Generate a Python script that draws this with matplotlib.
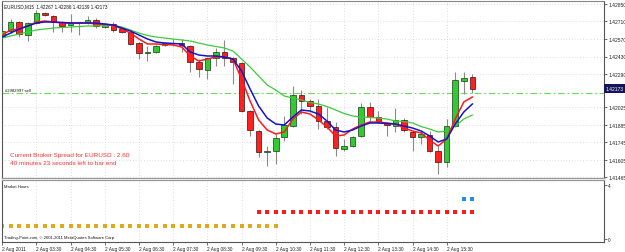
import matplotlib
matplotlib.use("Agg")
import matplotlib.pyplot as plt
import numpy as np

# EURUSD M15 bars, 2 Aug 2011 02:30 .. 16:15
opens = [1.42586, 1.42634, 1.42706, 1.42602, 1.42698, 1.42778, 1.42754, 1.42706,
         1.42682, 1.42698, 1.42706, 1.42722, 1.42666, 1.42690, 1.42650, 1.42626,
         1.42538, 1.42458, 1.42466, 1.42522, 1.42538, 1.42538, 1.42514, 1.42386,
         1.42322, 1.42418, 1.42466, 1.42418, 1.42378, 1.41994, 1.41834, 1.41666,
         1.41674, 1.41786, 1.41874, 1.42122, 1.42074, 1.42034, 1.41914, 1.41866,
         1.41690, 1.41714, 1.41794, 1.42026, 1.41946, 1.41898, 1.41874, 1.41922,
         1.41826, 1.41786, 1.41802, 1.41674, 1.41586, 1.41874, 1.42234, 1.42267]
highs = [1.42650, 1.42730, 1.42714, 1.42706, 1.42802, 1.42786, 1.42762, 1.42714,
         1.42770, 1.42706, 1.42754, 1.42738, 1.42698, 1.42706, 1.42658, 1.42634,
         1.42546, 1.42514, 1.42522, 1.42546, 1.42570, 1.42570, 1.42522, 1.42410,
         1.42426, 1.42498, 1.42562, 1.42426, 1.42386, 1.42002, 1.41842, 1.41714,
         1.41810, 1.41954, 1.42194, 1.42162, 1.42090, 1.42090, 1.42026, 1.41906,
         1.41770, 1.41794, 1.42058, 1.42066, 1.41994, 1.41906, 1.42018, 1.41938,
         1.41834, 1.41842, 1.41834, 1.41714, 1.41930, 1.42306, 1.42306, 1.42286]
lows = [1.42570, 1.42618, 1.42586, 1.42554, 1.42690, 1.42754, 1.42626, 1.42626,
        1.42626, 1.42602, 1.42690, 1.42658, 1.42658, 1.42626, 1.42618, 1.42522,
        1.42410, 1.42394, 1.42458, 1.42514, 1.42514, 1.42466, 1.42306, 1.42266,
        1.42250, 1.42354, 1.42354, 1.42210, 1.41986, 1.41794, 1.41626, 1.41554,
        1.41570, 1.41754, 1.41866, 1.41970, 1.41986, 1.41850, 1.41850, 1.41634,
        1.41674, 1.41706, 1.41786, 1.41906, 1.41898, 1.41794, 1.41826, 1.41826,
        1.41674, 1.41730, 1.41666, 1.41490, 1.41546, 1.41866, 1.42130, 1.42139]
closes = [1.42634, 1.42706, 1.42610, 1.42698, 1.42778, 1.42762, 1.42706, 1.42674,
          1.42698, 1.42694, 1.42722, 1.42674, 1.42690, 1.42642, 1.42626, 1.42530,
          1.42458, 1.42466, 1.42514, 1.42538, 1.42534, 1.42522, 1.42386, 1.42330,
          1.42418, 1.42466, 1.42418, 1.42386, 1.41994, 1.41842, 1.41666, 1.41674,
          1.41778, 1.41882, 1.42122, 1.42074, 1.42034, 1.41914, 1.41866, 1.41698,
          1.41714, 1.41786, 1.42026, 1.41946, 1.41906, 1.41882, 1.41922, 1.41842,
          1.41786, 1.41810, 1.41674, 1.41586, 1.41874, 1.42242, 1.42258, 1.42173]

# moving averages
ma_red = [1.42602, 1.42642, 1.42650, 1.42674, 1.42706, 1.42714, 1.42706, 1.42698,
          1.42698, 1.42698, 1.42698, 1.42690, 1.42686, 1.42682, 1.42650, 1.42618,
          1.42570, 1.42530, 1.42530, 1.42526, 1.42522, 1.42506, 1.42434, 1.42394,
          1.42410, 1.42426, 1.42426, 1.42410, 1.42250, 1.42074, 1.41922, 1.41842,
          1.41810, 1.41826, 1.41930, 1.41986, 1.41970, 1.41922, 1.41866, 1.41794,
          1.41802, 1.41850, 1.41882, 1.41906, 1.41906, 1.41898, 1.41890, 1.41858,
          1.41834, 1.41818, 1.41762, 1.41714, 1.41770, 1.41930, 1.42066, 1.42106]
ma_blue = [1.42586, 1.42618, 1.42650, 1.42674, 1.42698, 1.42706, 1.42706, 1.42702,
           1.42698, 1.42698, 1.42698, 1.42698, 1.42690, 1.42682, 1.42658, 1.42634,
           1.42602, 1.42570, 1.42546, 1.42538, 1.42534, 1.42530, 1.42466, 1.42442,
           1.42434, 1.42434, 1.42426, 1.42410, 1.42314, 1.42170, 1.42034, 1.41938,
           1.41890, 1.41882, 1.41946, 1.42002, 1.41994, 1.41970, 1.41914, 1.41842,
           1.41826, 1.41842, 1.41874, 1.41898, 1.41898, 1.41894, 1.41890, 1.41874,
           1.41858, 1.41834, 1.41794, 1.41746, 1.41770, 1.41890, 1.41986, 1.42050]
ma_green = [1.42578, 1.42594, 1.42610, 1.42626, 1.42642, 1.42650, 1.42658, 1.42662,
            1.42666, 1.42670, 1.42674, 1.42674, 1.42678, 1.42678, 1.42666, 1.42642,
            1.42618, 1.42598, 1.42586, 1.42578, 1.42570, 1.42562, 1.42554, 1.42538,
            1.42522, 1.42510, 1.42498, 1.42474, 1.42410, 1.42346, 1.42274, 1.42202,
            1.42162, 1.42114, 1.42098, 1.42082, 1.42062, 1.42050, 1.42030, 1.42002,
            1.41974, 1.41954, 1.41946, 1.41942, 1.41938, 1.41930, 1.41914, 1.41910,
            1.41898, 1.41870, 1.41850, 1.41826, 1.41834, 1.41874, 1.41930, 1.41962]

time_ticks = [0, 4, 8, 12, 16, 20, 24, 28, 32, 36, 40, 44, 48, 52]
time_labels = ["2 Aug 2011", "2 Aug 03:30", "2 Aug 04:30", "2 Aug 05:30",
               "2 Aug 06:30", "2 Aug 07:30", "2 Aug 08:30", "2 Aug 09:30",
               "2 Aug 10:30", "2 Aug 11:30", "2 Aug 12:30", "2 Aug 13:30",
               "2 Aug 14:30", "2 Aug 15:30"]
price_ticks = [1.42850, 1.42710, 1.42570, 1.42430, 1.42290,
               1.42025, 1.41885, 1.41745, 1.41605, 1.41465]
order_price = 1.42138
last_price = 1.42173

# market hours indicator: session level per bar
asia_bars = list(range(0, 33))
europe_bars = list(range(30, 56))
us_bars = [54, 55]
asia_level, europe_level, us_level = 1, 2, 3

plt.rcParams["font.family"] = ["Liberation Sans", "DejaVu Sans"]

W, H = 625, 253
fig = plt.figure(figsize=(W / 100, H / 100), dpi=100)
fig.patch.set_facecolor("white")


def box(l, t, r, b):
    return [l / W, 1 - b / H, (r - l) / W, (b - t) / H]


ax = fig.add_axes(box(2, 2, 604, 179))
ax2 = fig.add_axes(box(2, 181, 604, 243))

x = np.arange(len(opens))
o = np.array(opens)
c = np.array(closes)
up = c >= o
grid_kw = dict(color="#c4c4c4", linestyle=(0, (1, 3)), linewidth=0.5)

# candles
ax.vlines(x, lows, highs, color="#8a8a8a", linewidth=0.8, zorder=2)
body_lo = np.minimum(o, c)
body_h = np.maximum(np.abs(c - o), 0.00002)
ax.bar(x[up], body_h[up], bottom=body_lo[up], width=0.65, color="#2ecc2e",
       edgecolor="#1a3a1a", linewidth=0.5, zorder=3)
ax.bar(x[~up], body_h[~up], bottom=body_lo[~up], width=0.65, color="#ff2020",
       edgecolor="#3a1010", linewidth=0.5, zorder=3)

ax.plot(x, ma_green, color="#3ccc3c", linewidth=0.9, zorder=4)
ax.plot(x, ma_red, color="#ff1a1a", linewidth=1.1, zorder=5)
ax.plot(x, ma_blue, color="#1414c8", linewidth=1.1, zorder=5)

ax.axhline(order_price, color="#66dd55", linewidth=0.8,
           linestyle=(0, (6, 2.5, 1.5, 2.5)), zorder=1)

ax.set_xlim(-0.02, 70.4)
ax.set_ylim(1.41458, 1.42874)
ax.set_xticks(time_ticks)
ax.set_xticklabels([])
ax.tick_params(axis="x", length=0)
ax.yaxis.tick_right()
ax.set_yticks(price_ticks)
ax.set_yticklabels([f"{p:.5f}" for p in price_ticks])
ax.tick_params(axis="y", labelsize=3.6, length=2, width=0.5, pad=1,
               color="#333333", labelcolor="#222222")
ax.grid(True, **grid_kw)
ax.set_axisbelow(True)

ax.text(1.003, last_price, "1.42173", transform=ax.get_yaxis_transform(),
        ha="left", va="center", fontsize=3.6, color="white",
        bbox=dict(boxstyle="square,pad=0.35", facecolor="#14145a", edgecolor="none"),
        clip_on=False)

ax.text(0.004, 0.985, "EURUSD,M15  1.42267 1.42286 1.42139 1.42173",
        transform=ax.transAxes, ha="left", va="top", fontsize=3.3, color="#111111")
ax.text(0.005, order_price + 0.00004, "#2982997 sell", ha="left", va="bottom",
        fontsize=3.0, color="#111111", transform=ax.get_yaxis_transform())
ax.text(0.014, 0.118, "Current Broker Spread for EURUSD : 2.60",
        transform=ax.transAxes, ha="left", va="bottom", fontsize=4.6, color="#ff3333")
ax.text(0.014, 0.075, "40 minutes 23 seconds left to bar end",
        transform=ax.transAxes, ha="left", va="bottom", fontsize=4.6, color="#ff3333")

for s in ["left", "right"]:
    ax.spines[s].set_color("#555555")
    ax.spines[s].set_linewidth(0.8)
ax.spines["top"].set_color("#888888")
ax.spines["top"].set_linewidth(0.8)
ax.spines["bottom"].set_color("#9a9a9a")
ax.spines["bottom"].set_linewidth(0.9)

# market hours pane
sq = 9
ax2.scatter(asia_bars, [asia_level] * len(asia_bars), marker="s", s=sq,
            color="#e0a81c", linewidths=0)
ax2.scatter(europe_bars, [europe_level] * len(europe_bars), marker="s", s=sq,
            color="#ff1a1a", linewidths=0)
ax2.scatter(us_bars, [us_level] * len(us_bars), marker="s", s=sq,
            color="#1e8ef0", linewidths=0)
ax2.set_xlim(-0.02, 70.4)
ax2.set_ylim(-0.22, 4.37)
ax2.set_xticks(time_ticks)
ax2.set_xticklabels(time_labels, ha="left")
ax2.tick_params(axis="x", labelsize=3.4, length=2, width=0.5, pad=1,
                color="#333333", labelcolor="#222222")
ax2.yaxis.tick_right()
ax2.set_yticks([0, 4])
ax2.set_yticklabels(["0", "4"])
ax2.tick_params(axis="y", labelsize=3.4, length=2, width=0.5, pad=1,
                color="#333333", labelcolor="#222222")
ax2.grid(True, axis="x", **grid_kw)
ax2.set_axisbelow(True)
ax2.text(0.004, 0.93, "Market Hours", transform=ax2.transAxes, ha="left",
         va="top", fontsize=3.0, color="#111111")
ax2.text(0.004, 0.05, "Trading-Point.com, \u00a9 2001-2011 MetaQuotes Software Corp.",
         transform=ax2.transAxes, ha="left", va="bottom", fontsize=3.0, color="#111111")
for s in ["left", "right", "bottom"]:
    ax2.spines[s].set_color("#555555")
    ax2.spines[s].set_linewidth(0.8)
ax2.spines["top"].set_color("#9a9a9a")
ax2.spines["top"].set_linewidth(0.9)

fig.savefig("out.png", dpi=100)
